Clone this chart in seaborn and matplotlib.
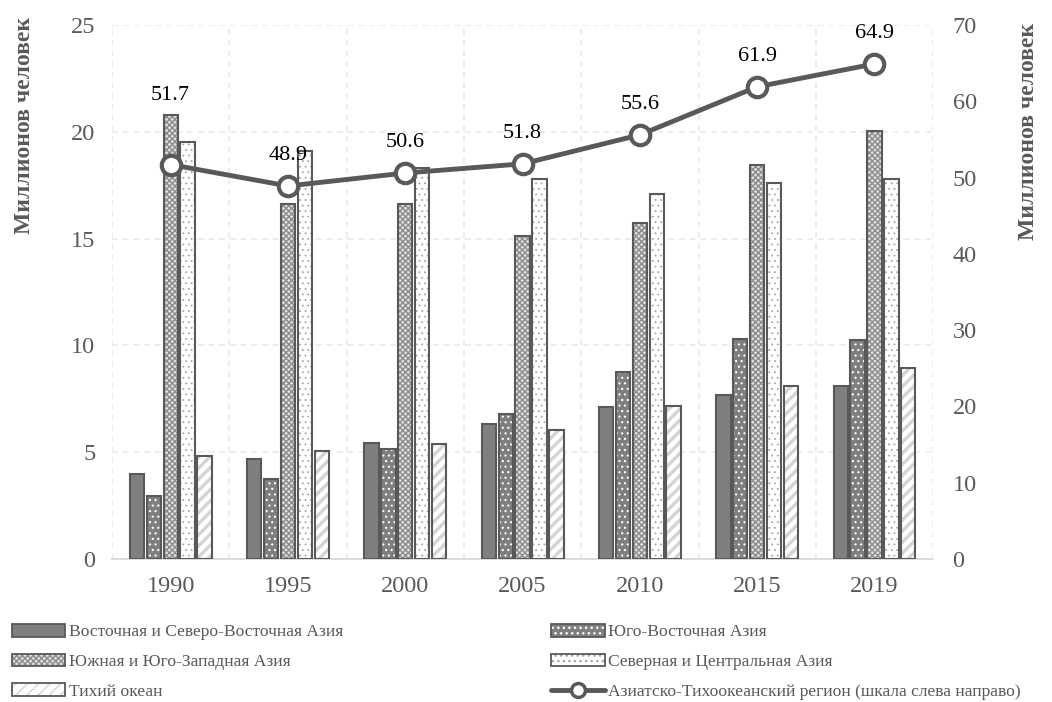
import numpy as np
import pandas as pd
import matplotlib
matplotlib.use("Agg")
import matplotlib.pyplot as plt
from matplotlib.patches import Rectangle
from matplotlib.lines import Line2D
import seaborn as sns

# Migrant stock by subregion, millions of people
years = ["1990", "1995", "2000", "2005", "2010", "2015", "2019"]
east_ne_asia = [4.0, 4.7, 5.45, 6.3, 7.1, 7.7, 8.1]
south_east_asia = [2.95, 3.75, 5.15, 6.8, 8.75, 10.3, 10.25]
south_sw_asia = [20.8, 16.6, 16.6, 15.1, 15.75, 18.45, 20.05]
north_central_asia = [19.5, 19.1, 18.3, 17.8, 17.1, 17.6, 17.8]
pacific = [4.8, 5.05, 5.4, 6.05, 7.15, 8.1, 8.95]
asia_pacific_total = [51.7, 48.9, 50.6, 51.8, 55.6, 61.9, 64.9]

series_names = [
    "Восточная и Северо-Восточная Азия",
    "Юго-Восточная Азия",
    "Южная и Юго-Западная Азия",
    "Северная и Центральная Азия",
    "Тихий океан",
]
line_name = "Азиатско-Тихоокеанский регион (шкала слева направо)"
y_label = "Миллионов человек"

# Fill, hatch pattern, hatch colour and hatch width for each bar series
face_colors = ["#7f7f7f", "#7f7f7f", "#e0e0e0", "#ffffff", "#ffffff"]
hatches = [None, "...", "xxxxxx", "...", "///"]
hatch_colors = ["#7f7f7f", "#ffffff", "#8c8c8c", "#a6a6a6", "#d4d4d4"]
hatch_widths = [1.0, 0.8, 1.0, 0.6, 2.4]
edge_dark = "#595959"
grid_col = "#ebe9dc"
text_gray = "#595959"

df = pd.DataFrame({
    "year": np.tile(years, 5),
    "series": np.repeat(series_names, len(years)),
    "value": np.concatenate([east_ne_asia, south_east_asia, south_sw_asia,
                             north_central_asia, pacific]),
})

sns.set_theme(style="white")
plt.rcParams["font.family"] = ["Liberation Serif", "DejaVu Serif"]
plt.rcParams["hatch.linewidth"] = 1.0

fig = plt.figure(figsize=(10.52, 7.02), dpi=100)
ax = fig.add_axes([0.1065, 0.2037, 0.7805, 0.7607])

sns.barplot(data=df, x="year", y="value", hue="series", order=years,
            hue_order=series_names, ax=ax, width=0.72, gap=0.15,
            palette=face_colors, legend=False, saturation=1, zorder=2)


def style_patch(p, fc, hatch, hc, hw):
    p.set_facecolor(fc)
    p.set_edgecolor(hc)
    p.set_linewidth(0)
    if hatch:
        p.set_hatch(hatch)
        if hasattr(p, "set_hatch_linewidth"):
            p.set_hatch_linewidth(hw)


# Apply hatches; draw the dark outline as a separate unfilled rectangle
for cont, fc, hatch, hc, hw in zip(ax.containers, face_colors, hatches,
                                   hatch_colors, hatch_widths):
    for p in cont.patches:
        style_patch(p, fc, hatch, hc, hw)
        ax.add_patch(Rectangle(p.get_xy(), p.get_width(), p.get_height(),
                               fill=False, edgecolor=edge_dark, linewidth=1.5,
                               zorder=3))

ax.set_ylim(0, 25)
ax.set_yticks(np.arange(0, 26, 5))
ax.set_xlabel("")
ax.set_ylabel(y_label, fontsize=17, fontweight="bold", color=text_gray)
ax.yaxis.set_label_coords(-0.094, 0.812)

ax.set_xticks(np.arange(-0.5, len(years), 1), minor=True)
ax.grid(axis="y", which="major", color=grid_col, linestyle=(0, (4, 3)), linewidth=1.1)
ax.grid(axis="x", which="minor", color=grid_col, linestyle=(0, (4, 3)), linewidth=1.1)
ax.grid(axis="x", which="major", visible=False)
ax.set_axisbelow(True)
for s in ["top", "left", "right"]:
    ax.spines[s].set_visible(False)
ax.spines["bottom"].set_color("#d9d9d9")
ax.spines["bottom"].set_linewidth(1.3)
ax.tick_params(axis="x", which="major", length=0, pad=12, labelsize=17.5, labelcolor=text_gray)
ax.tick_params(axis="x", which="minor", length=6, color="#d9d9d9", width=1.3)
ax.tick_params(axis="y", length=0, pad=12, labelsize=17.5, labelcolor=text_gray)

# Secondary axis with the regional total
ax2 = ax.twinx()
sns.lineplot(x=years, y=asia_pacific_total, ax=ax2, color=edge_dark, linewidth=3.5,
             marker="o", markersize=14, markerfacecolor="white",
             markeredgecolor=edge_dark, markeredgewidth=3, zorder=5)
ax2.set_ylim(0, 70)
ax2.set_yticks(np.arange(0, 71, 10))
ax2.set_ylabel(y_label, fontsize=17, fontweight="bold", color=text_gray)
ax2.yaxis.set_label_coords(1.1035, 0.80)
ax2.tick_params(axis="y", length=0, pad=14, labelsize=17.5, labelcolor=text_gray)
ax2.grid(False)
for s in ax2.spines.values():
    s.set_visible(False)
ax.set_xlim(-0.5, len(years) - 0.5)
ax2.set_xlim(-0.5, len(years) - 0.5)

label_offsets = [50, 22, 22, 22, 22, 22, 22]
for i, (v, off) in enumerate(zip(asia_pacific_total, label_offsets)):
    ax2.annotate(f"{v:.1f}", (i, v), xytext=(0, off), textcoords="offset points",
                 ha="center", va="center", fontsize=16, color="black", zorder=6)

# Legend below the plot, two columns; each bar key is a hatched fill plus outline
handles = []
for fc, hatch, hc, hw in zip(face_colors, hatches, hatch_colors, hatch_widths):
    fill = Rectangle((0, 0), 1, 1)
    style_patch(fill, fc, hatch, hc, hw)
    outline = Rectangle((0, 0), 1, 1, fill=False, edgecolor=edge_dark, linewidth=1.3)
    handles.append((fill, outline))
line_handle = Line2D([], [], color=edge_dark, linewidth=3.5, marker="o",
                     markersize=10, markerfacecolor="white",
                     markeredgecolor=edge_dark, markeredgewidth=2.5)
order = [0, 2, 4, 1, 3]
leg_handles = [handles[i] for i in order] + [line_handle]
leg_labels = [series_names[i] for i in order] + [line_name]
fig.legend(leg_handles, leg_labels, ncol=2, loc="upper left",
           bbox_to_anchor=(12 / 1052, 0.111), frameon=False, fontsize=12.6,
           labelcolor=text_gray, handlelength=3.05, handleheight=0.72,
           handletextpad=0.2, labelspacing=0.76, columnspacing=11.9,
           borderpad=0, borderaxespad=0)

fig.savefig("out.png", dpi=100)
